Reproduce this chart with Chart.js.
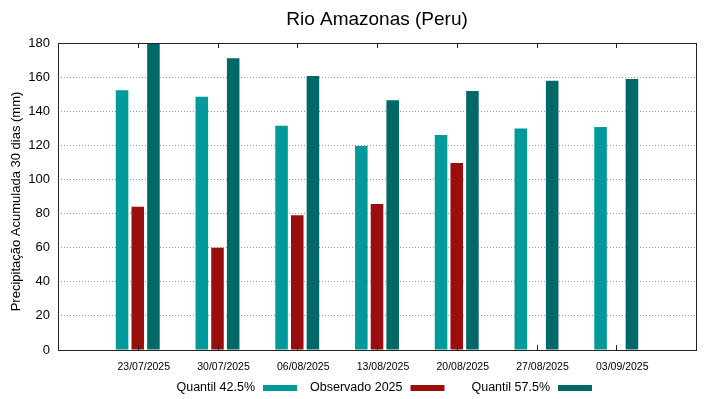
<!DOCTYPE html>
<html>
<head>
<meta charset="utf-8">
<script src="https://cdn.jsdelivr.net/npm/chart.js@4/dist/chart.umd.min.js"></script>
<style>
  body { margin: 0; background: #fff; }
  #grafico { display: block; }
</style>
</head>
<body>
<canvas id="grafico" width="719" height="399"></canvas>
<script>
// Dados
const datas = ["23/07/2025", "30/07/2025", "06/08/2025", "13/08/2025", "20/08/2025", "27/08/2025", "03/09/2025"];
const quantil425 = [152.3, 148.5, 131.5, 119.6, 126.1, 129.8, 130.7];
const observado2025 = [84.0, 60.0, 79.0, 85.6, 109.6, null, null];
const quantil575 = [180, 171.0, 160.6, 146.4, 151.9, 157.9, 158.9];
const ticksY = [0, 20, 40, 60, 80, 100, 120, 140, 160, 180];

const fonte = "'Liberation Sans', Arial, sans-serif";
const tituloY = "Precipitação Acumulada 30 dias (mm)";

// categorias vazias nas pontas para dar o espaço lateral
const rotulos = [""].concat(datas, [""]);
function comPontas(arr) {
    return [null].concat(arr, [null]);
}

// moldura em volta da área do gráfico + marcas internas do eixo x + título do eixo y
const moldura = {
    id: "moldura",
    afterDraw(chart) {
        const ctx = chart.ctx;
        const area = chart.chartArea;
        const x = chart.scales.x;
        ctx.save();
        ctx.strokeStyle = "#222";
        ctx.lineWidth = 1;
        ctx.strokeRect(Math.round(area.left) + 0.5, Math.round(area.top) + 0.5,
            Math.round(area.right - area.left), Math.round(area.bottom - area.top));
        ctx.beginPath();
        rotulos.forEach(function (r, i) {
            if (!r) return;
            const px = Math.round(x.getPixelForValue(i)) + 0.5;
            ctx.moveTo(px, area.top);
            ctx.lineTo(px, area.top + 5);
            ctx.moveTo(px, area.bottom);
            ctx.lineTo(px, area.bottom - 5);
        });
        ctx.stroke();

        // título do eixo y (um pouco abaixo do centro, como no original)
        ctx.translate(16, (area.top + area.bottom) / 2 + 5);
        ctx.rotate(-Math.PI / 2);
        ctx.font = "13px " + fonte;
        ctx.fillStyle = "#000";
        ctx.textAlign = "center";
        ctx.textBaseline = "middle";
        ctx.fillText(tituloY, 0, 0);
        ctx.restore();
    }
};

// legenda estilo gnuplot: texto alinhado à direita, amostra depois
const legenda = {
    id: "legendaGnuplot",
    afterDraw(chart) {
        const ctx = chart.ctx;
        const area = chart.chartArea;
        const centro = (area.left + area.right) / 2;
        const y = 388;
        ctx.save();
        ctx.font = "12.5px " + fonte;
        ctx.textAlign = "right";
        ctx.textBaseline = "middle";
        chart.data.datasets.forEach(function (ds, i) {
            const fimAmostra = centro - 80 + i * 147.5;
            ctx.fillStyle = ds.backgroundColor;
            ctx.fillRect(fimAmostra - 34, y - 3, 34, 6);
            ctx.fillStyle = "#000";
            ctx.fillText(ds.label, fimAmostra - 42, y);
        });
        ctx.restore();
    }
};

new Chart(document.getElementById("grafico"), {
    type: "bar",
    data: {
        labels: rotulos,
        datasets: [
            { label: "Quantil 42.5%", data: comPontas(quantil425), backgroundColor: "#009a9a" },
            { label: "Observado 2025", data: comPontas(observado2025), backgroundColor: "#9a0e0e" },
            { label: "Quantil 57.5%", data: comPontas(quantil575), backgroundColor: "#006867" }
        ]
    },
    options: {
        responsive: false,
        animation: false,
        devicePixelRatio: 1,
        layout: { padding: { left: 0, right: 23, top: 0, bottom: 0 } },
        datasets: { bar: { categoryPercentage: 0.59, barPercentage: 0.8 } },
        plugins: {
            legend: { display: false },
            tooltip: { enabled: false },
            title: {
                display: true,
                fullSize: false,
                text: "Rio Amazonas (Peru)",
                color: "#000",
                font: { family: fonte, size: 19, weight: "normal" },
                padding: { top: 8, bottom: 12.2 }
            }
        },
        scales: {
            x: {
                offset: false,
                grid: { display: false, drawTicks: false },
                border: { display: false },
                ticks: {
                    color: "#000",
                    font: { family: fonte, size: 10.5 },
                    padding: 11,
                    labelOffset: 6,
                    maxRotation: 0,
                    autoSkip: false
                },
                afterFit: function (scale) { scale.height = 49; }
            },
            y: {
                min: 0,
                max: 180,
                afterBuildTicks: function (scale) {
                    scale.ticks = ticksY.map(function (v) { return { value: v }; });
                },
                grid: {
                    color: function (c) {
                        return (c.tick.value === 0 || c.tick.value === 180) ? "rgba(0,0,0,0)" : "#9a9a9a";
                    },
                    lineWidth: 1,
                    drawTicks: false
                },
                border: { display: false, dash: [1, 2] },
                ticks: {
                    color: "#000",
                    font: { family: fonte, size: 13 },
                    padding: 8
                },
                afterFit: function (scale) { scale.width = 58; }
            }
        }
    },
    plugins: [moldura, legenda]
});
</script>
</body>
</html>
